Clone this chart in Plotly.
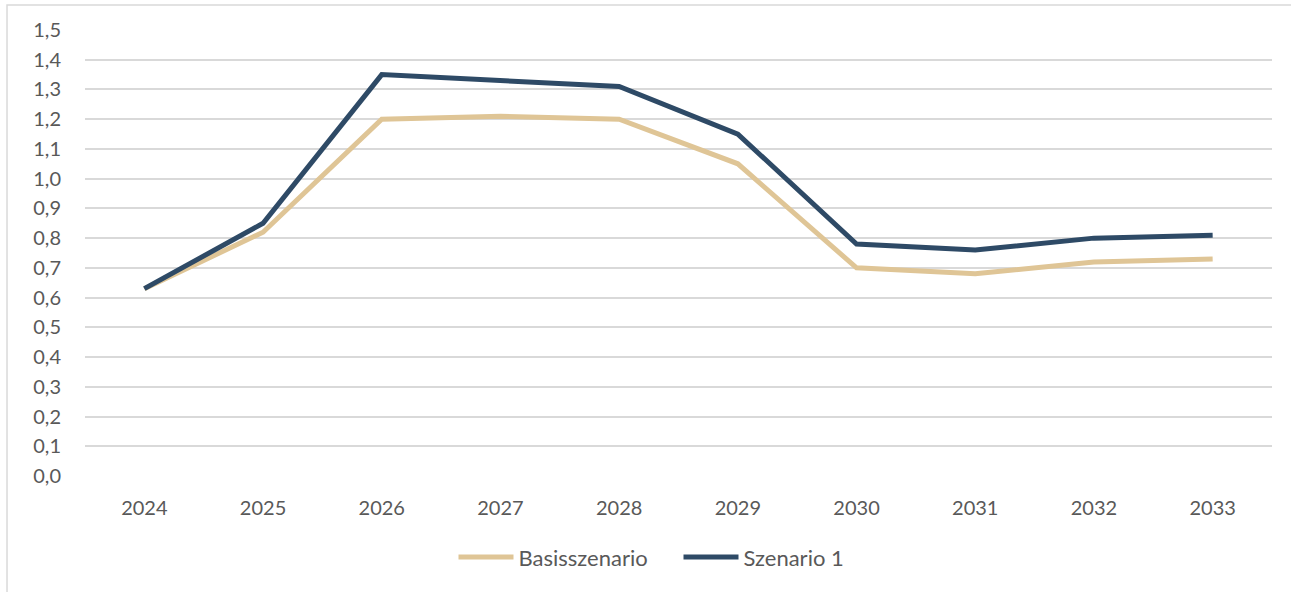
import plotly.graph_objects as go

jahre = ["2024", "2025", "2026", "2027", "2028", "2029", "2030", "2031", "2032", "2033"]
basis = [0.63, 0.82, 1.20, 1.21, 1.20, 1.05, 0.70, 0.68, 0.72, 0.73]
szenario1 = [0.63, 0.85, 1.35, 1.33, 1.31, 1.15, 0.78, 0.76, 0.80, 0.81]

fig = go.Figure()
fig.add_trace(go.Scatter(x=jahre, y=basis, mode="lines", name="Basisszenario",
                         line=dict(color="#dfc596", width=5)))
fig.add_trace(go.Scatter(x=jahre, y=szenario1, mode="lines", name="Szenario 1",
                         line=dict(color="#2e4a66", width=5)))

# Rahmen um das Diagramm
fig.add_shape(type="rect", xref="paper", yref="paper",
              x0=-0.0657, x1=1.2, y0=-0.6, y1=1.056,
              line=dict(color="#d9d9d9", width=1.5), layer="below")

fig.update_layout(
    width=1291, height=592,
    margin=dict(l=85, r=19, t=30, b=116),
    plot_bgcolor="white", paper_bgcolor="white",
    font=dict(family="Lato, Open Sans, sans-serif", size=20, color="#595959"),
    separators=",.",
    xaxis=dict(type="category", range=[-0.5, 9.5], showgrid=False,
               showline=False, ticks="", ticklabelstandoff=18),
    yaxis=dict(range=[0, 1.5], dtick=0.1, tickformat=".1f",
               gridcolor="#d9d9d9", gridwidth=1.5, zeroline=False,
               showline=False, ticks="", ticklabelstandoff=23),
    legend=dict(orientation="h", x=0.5, xanchor="center", y=-0.182,
                yanchor="middle", itemwidth=55, entrywidth=155,
                font=dict(size=22)),
    showlegend=True,
)

fig.write_html("out.html", config={"displayModeBar": False},
               post_script="document.body.style.margin='0';")
